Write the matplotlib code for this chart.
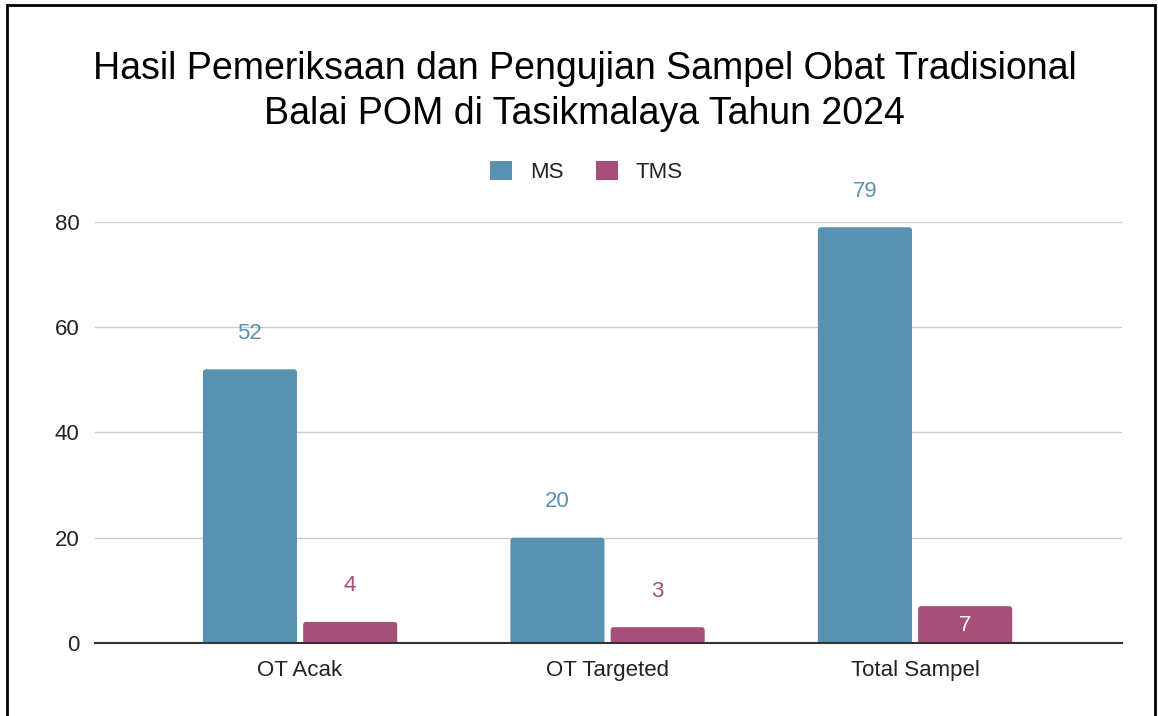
import matplotlib
matplotlib.use("Agg")
import matplotlib.pyplot as plt
from matplotlib.patches import FancyBboxPatch, Rectangle, Patch

plt.rcParams['font.family'] = ['Liberation Sans', 'DejaVu Sans']

# data
categories = ['OT Acak', 'OT Targeted', 'Total Sampel']
ms_values = [52, 20, 79]
tms_values = [4, 3, 7]
series_names = ['MS', 'TMS']
yticks = [0, 20, 40, 60, 80]

ms_color = '#5991b0'
tms_color = '#a54f79'
bar_w = 0.306
offset = 0.163
fs = 16


def rounded(ax, rects, color):
    # swap plain rectangles for slightly rounded ones (bottom clipped by axis)
    for r in rects:
        x, w, h = r.get_x(), r.get_width(), r.get_height()
        r.remove()
        p = FancyBboxPatch((x, -2), w, h + 2,
                           boxstyle="round,pad=0,rounding_size=0.0098",
                           mutation_aspect=58.4, fc=color, ec='none',
                           zorder=3, clip_on=True)
        ax.add_patch(p)


fig = plt.figure(figsize=(11.58, 7.16), dpi=100)
ax = fig.add_axes([0.0820, 0.1020, 0.8869, 0.5880])

xs = list(range(len(categories)))
ms_bars = ax.bar([x - offset for x in xs], ms_values, bar_w, color=ms_color)
tms_bars = ax.bar([x + offset for x in xs], tms_values, bar_w, color=tms_color)
rounded(ax, ms_bars, ms_color)
rounded(ax, tms_bars, tms_color)

# value labels
for x, v in zip(xs, ms_values):
    ax.annotate(str(v), (x - offset, v), xytext=(0, 26), textcoords='offset points',
                ha='center', va='center', fontsize=fs, color=ms_color)
for x, v in zip(xs, tms_values):
    if v == max(tms_values):
        ax.annotate(str(v), (x + offset, v), xytext=(0, -14), textcoords='offset points',
                    ha='center', va='center', fontsize=fs, color='white', zorder=5)
    else:
        ax.annotate(str(v), (x + offset, v), xytext=(0, 26), textcoords='offset points',
                    ha='center', va='center', fontsize=fs, color=tms_color)

ax.set_xlim(-0.667, 2.673)
ax.set_ylim(0, 80)
ax.set_yticks(yticks)
ax.set_xticks(xs)
ax.set_xticklabels(categories)
ax.tick_params(axis='both', length=0, labelsize=fs, colors='#222222')
ax.tick_params(axis='y', pad=11)
ax.tick_params(axis='x', pad=12.5)
ax.grid(axis='y', color='#cccccc', linewidth=1)
ax.set_axisbelow(True)
for s in ['top', 'right', 'left']:
    ax.spines[s].set_visible(False)
ax.spines['bottom'].set_color('#333333')
ax.spines['bottom'].set_linewidth(1.5)
ax.spines['bottom'].set_zorder(4)

fig.text(0.505, 0.8725,
         'Hasil Pemeriksaan dan Pengujian Sampel Obat Tradisional\n'
         'Balai POM di Tasikmalaya Tahun 2024',
         ha='center', va='center', fontsize=27, linespacing=1.32, color='black')

handles = [Patch(fc=ms_color, ec='none'), Patch(fc=tms_color, ec='none')]
fig.legend(handles, series_names, loc='center', bbox_to_anchor=(0.5065, 0.760),
           ncol=2, frameon=False, fontsize=fs, handlelength=1.0,
           handleheight=1.0, handletextpad=0.8, columnspacing=1.45,
           labelcolor='#222222')

# black frame around the picture
fig.add_artist(Rectangle((7 / 1158, -0.05), (1155 - 7) / 1158, 1 - 5 / 716 + 0.05,
                         transform=fig.transFigure, fill=False, ec='black',
                         lw=2, clip_on=False))

fig.savefig('out.png', dpi=100)
